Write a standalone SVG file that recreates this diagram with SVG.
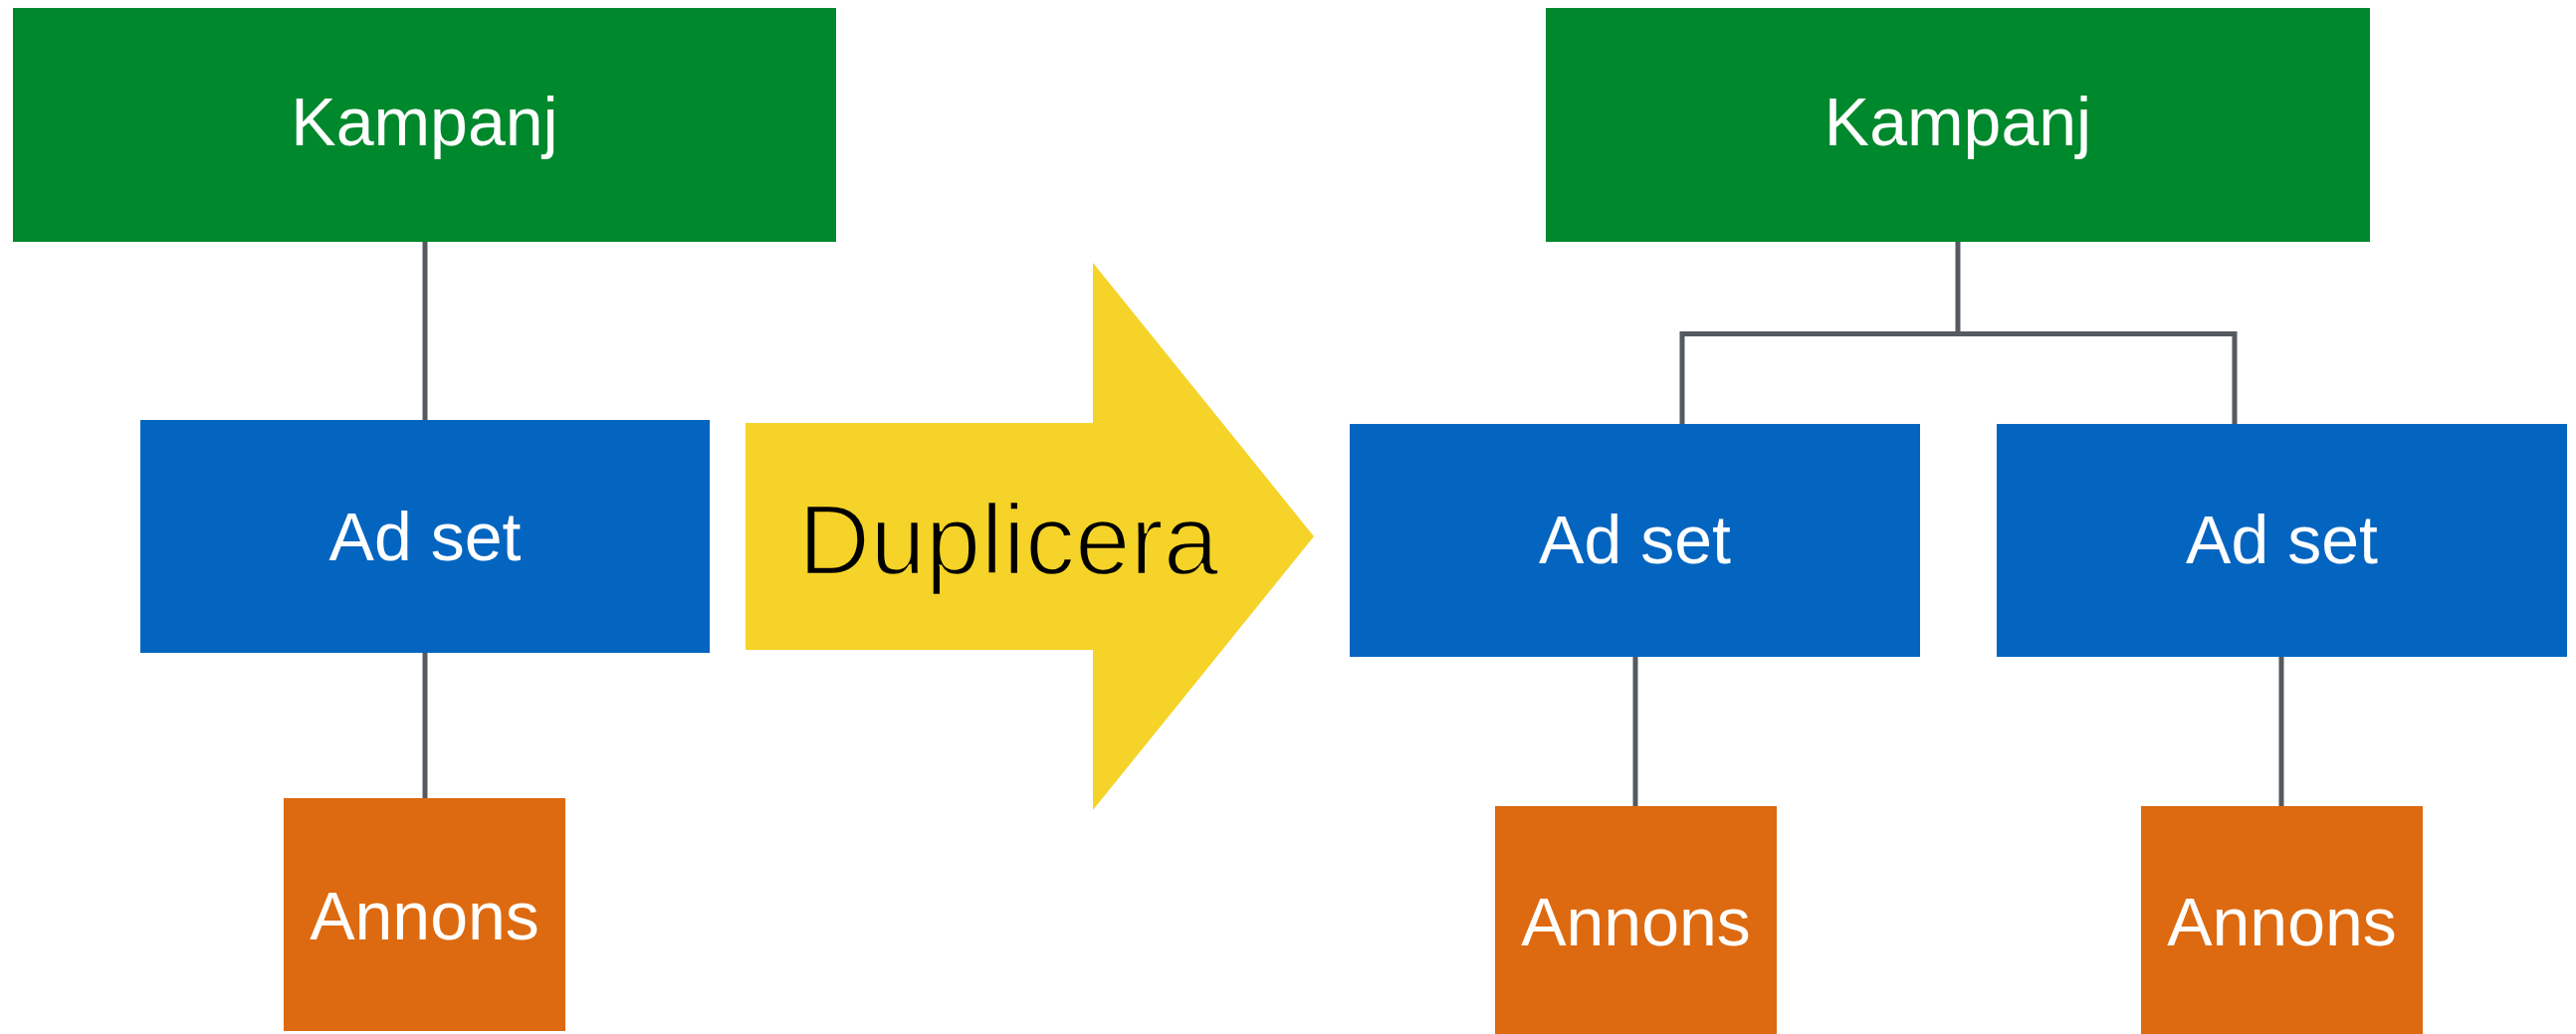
<svg xmlns="http://www.w3.org/2000/svg" width="2588" height="1039" viewBox="0 0 2588 1039">
<style>
.kamp{fill:#00882c}
.adset{fill:#0465c0}
.annons{fill:#dd6a10}
.lbl{font-family:"Liberation Sans",Arial,Helvetica,sans-serif;font-size:68px;fill:#ffffff;text-anchor:middle}
.conn{stroke:#555a61;stroke-width:5;fill:none;stroke-linejoin:miter;stroke-linecap:butt}
</style>
<rect width="2588" height="1039" fill="#ffffff"/>
<g id="connectors">
<line class="conn" x1="427" y1="243" x2="427" y2="422"/>
<line class="conn" x1="427" y1="656" x2="427" y2="802"/>
<line class="conn" x1="1967" y1="243" x2="1967" y2="335"/>
<polyline class="conn" points="1690,426 1690,335.5 2245,335.5 2245,426"/>
<line class="conn" x1="1643" y1="660" x2="1643" y2="810"/>
<line class="conn" x1="2292" y1="660" x2="2292" y2="810"/>
</g>
<g id="kampanj-left">
<rect class="kamp" x="13" y="8" width="827" height="235"/>
<text class="lbl" x="426.5" y="146">Kampanj</text>
</g>
<g id="adset-left">
<rect class="adset" x="141" y="422" width="572" height="234"/>
<text class="lbl" x="427" y="563">Ad set</text>
</g>
<g id="annons-left">
<rect class="annons" x="285" y="802" width="283" height="234"/>
<text class="lbl" x="426.5" y="944">Annons</text>
</g>
<g id="duplicera-arrow">
<polygon points="749,425 1098,425 1098,264 1320,539 1098,814 1098,653 749,653" fill="#f5d328"/>
<text x="802" y="577" font-family="'Liberation Sans',Arial,Helvetica,sans-serif" font-size="100" fill="#000000" stroke="#f5d328" stroke-width="2.5">Duplicera</text>
</g>
<g id="kampanj-right">
<rect class="kamp" x="1553" y="8" width="828" height="235"/>
<text class="lbl" x="1967" y="146">Kampanj</text>
</g>
<g id="adset-right-1">
<rect class="adset" x="1356" y="426" width="573" height="234"/>
<text class="lbl" x="1642.5" y="566">Ad set</text>
</g>
<g id="adset-right-2">
<rect class="adset" x="2006" y="426" width="573" height="234"/>
<text class="lbl" x="2292.5" y="566">Ad set</text>
</g>
<g id="annons-right-1">
<rect class="annons" x="1502" y="810" width="283" height="229"/>
<text class="lbl" x="1643.5" y="950">Annons</text>
</g>
<g id="annons-right-2">
<rect class="annons" x="2151" y="810" width="283" height="229"/>
<text class="lbl" x="2292.5" y="950">Annons</text>
</g>
</svg>
